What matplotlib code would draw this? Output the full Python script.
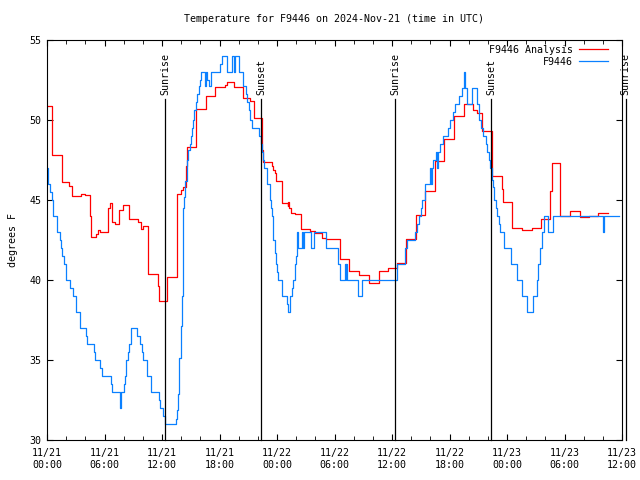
import numpy as np
import matplotlib
matplotlib.use('Agg')
import matplotlib.pyplot as plt

# hours since 11/21 00:00 UTC, temperatures in F (step data)
red_hours = [0.0, 0.55, 1.53, 1.6, 2.33, 2.57, 3.51, 3.96, 4.5, 4.63, 5.15, 5.3, 5.57,
             6.4, 6.6, 6.8, 7.1, 7.5, 7.9, 8.6, 9.5, 9.85, 10.0, 10.5, 11.55, 11.65,
             12.5, 13.53, 13.56, 14.0, 14.2, 14.55, 14.6, 15.55, 16.56, 17.53, 18.6,
             18.75, 19.5, 20.4, 21.2, 21.6, 22.4, 22.5, 23.5, 23.6, 23.75, 23.9, 24.5,
             25.1, 25.15, 25.2, 25.45, 25.9, 26.5, 27.4, 28.0, 28.7, 29.1, 30.6, 31.5,
             32.55, 33.6, 34.6, 35.55, 36.5, 37.46, 38.5, 39.48, 40.5, 41.46, 42.5,
             43.5, 44.5, 44.9, 45.4, 46.45, 47.5, 47.6, 48.55, 49.6, 50.6, 51.55,
             52.5, 52.65, 53.56, 54.6, 55.6, 56.6, 57.5, 58.5]
red_temps = [50.9, 47.8, 46.9, 46.1, 45.9, 45.25, 45.4, 45.33, 44.0, 42.7, 42.9, 43.1, 43.0,
             44.5, 44.8, 43.6, 43.5, 44.4, 44.7, 43.8, 43.6, 43.2, 43.4, 40.4, 39.6, 38.7,
             40.2, 42.8, 45.4, 45.6, 45.8, 47.1, 48.3, 50.7, 51.5, 52.06, 52.2,
             52.4, 52.04, 51.35, 51.2, 50.1, 48.1, 47.35, 47.1, 46.9, 46.67, 46.17, 44.8,
             44.6, 44.9, 44.5, 44.17, 44.1, 43.2, 43.04, 42.96, 42.65, 42.56, 41.3, 40.54,
             40.31, 39.81, 40.56, 40.75, 41.04, 42.54, 44.04, 45.56, 47.46, 48.79, 50.23,
             50.98, 50.63, 50.46, 49.3, 46.5, 45.7, 44.9, 43.23, 43.125, 43.23, 43.79,
             45.56, 47.29, 43.98, 44.29, 43.92, 44.02, 44.17, 44.17]

blue_hours = [0.0, 0.14, 0.35, 0.49, 0.59, 0.66, 1.01, 1.32, 1.46, 1.6, 1.77, 1.98, 2.4,
              2.71, 3.03, 3.44, 4.03, 4.14, 4.9, 5.01, 5.53, 5.7, 6.64, 6.75, 7.62, 7.72,
              8.03, 8.14, 8.24, 8.42, 8.52, 8.77, 9.39, 9.67, 9.88, 10.05, 10.47, 10.85,
              11.69, 11.83, 12.14, 12.28, 13.43, 13.6, 13.7, 13.81, 13.95, 14.05, 14.16,
              14.23, 14.33, 14.44, 14.57, 14.71, 14.89, 15.03, 15.17, 15.27, 15.37, 15.55,
              15.69, 15.86, 15.97, 16.03, 16.49, 16.56, 16.7, 16.9, 17.08, 18.05, 18.23,
              18.75, 19.27, 19.5, 19.6, 20.04, 20.49, 20.77, 20.91, 21.04, 21.18, 21.39,
              22.12, 22.3, 22.4, 22.54, 22.68, 23.0, 23.27, 23.34, 23.45, 23.55, 23.62,
              23.79, 23.9, 24.03, 24.14, 24.49, 25.08, 25.19, 25.39, 25.53, 25.71, 25.88,
              25.98, 26.09, 26.23, 26.6, 26.7, 26.85, 27.55, 27.9, 29.08, 30.4, 30.57,
              31.1, 31.15, 31.2, 31.27, 32.49, 32.84, 36.49, 37.36, 37.6, 38.4, 38.57,
              38.85, 38.99, 39.17, 39.45, 39.97, 40.1, 40.15, 40.31, 40.56, 40.7, 40.75,
              41.01, 41.36, 41.81, 42.05, 42.33, 42.61, 42.99, 43.27, 43.51, 43.55, 43.6,
              43.79, 44.31, 44.91, 45.11, 45.32, 45.53, 45.81, 45.88, 46.12, 46.23, 46.4,
              46.47, 46.57, 46.68, 46.82, 46.96, 47.17, 47.3, 47.72, 48.42, 49.01, 49.6,
              50.05, 50.75, 51.1, 51.27, 51.44, 51.62, 51.9, 52.31, 52.83, 58.05, 58.16,
              59.7]
blue_temps = [47.0, 46.0, 45.5, 45.0, 44.5, 44.0, 43.0, 42.5, 42.0, 41.5, 41.0, 40.0, 39.5,
              39.0, 38.0, 37.0, 36.5, 36.0, 35.5, 35.0, 34.5, 34.0, 33.5, 33.0, 32.0, 33.0,
              33.5, 34.0, 35.0, 35.5, 36.0, 37.0, 36.5, 36.0, 35.5, 35.0, 34.0, 33.0,
              32.5, 32.0, 31.5, 31.0, 31.3, 31.9, 32.9, 35.1, 37.1, 39.0, 41.0,
              44.5, 45.2, 46.2, 47.5, 48.1, 48.5, 49.0, 49.5, 50.0, 50.6, 51.1,
              51.6, 52.1, 52.5, 53.0, 52.1, 53.0, 52.5, 52.1, 53.0, 53.5, 54.0,
              53.0, 54.0, 53.0, 54.0, 53.0, 52.1, 51.6, 51.1, 50.6, 50.0, 49.5,
              49.0, 48.5, 48.0, 47.5, 47.0, 46.0, 45.0, 44.5, 44.0, 43.0, 42.5,
              41.7, 41.0, 40.5, 40.0, 39.0, 38.5, 38.0, 39.0, 39.5, 40.0, 41.0,
              41.5, 43.0, 42.0, 43.0, 42.0, 43.0, 42.0, 43.0, 42.0, 41.0, 40.0,
              41.0, 40.0, 41.0, 40.0, 39.0, 40.0, 41.0, 42.0, 42.5, 43.0, 43.5,
              44.0, 44.5, 45.0, 46.0, 47.0, 46.0, 47.0, 47.5, 48.0, 47.0, 48.0,
              48.5, 49.0, 49.5, 50.0, 50.5, 51.0, 51.5, 52.0, 52.5, 53.0, 52.0,
              51.0, 52.0, 51.0, 50.0, 49.5, 49.0, 48.5, 48.0, 47.5, 47.0, 46.5,
              46.25, 45.8, 45.0, 44.5, 44.0, 43.5, 43.0, 42.0, 41.0, 40.0, 39.0,
              38.0, 39.0, 40.0, 41.0, 42.0, 43.0, 44.0, 43.0, 44.0, 43.0, 44.0,
              44.0]

sun_hours = [12.34, 22.33, 36.35, 46.38, 60.39]
sun_labels = ['Sunrise', 'Sunset', 'Sunrise', 'Sunset', 'Sunrise']

tick_hours = [0, 6, 12, 18, 24, 30, 36, 42, 48, 54, 60]
tick_labels = ['11/21\n00:00', '11/21\n06:00', '11/21\n12:00', '11/21\n18:00',
               '11/22\n00:00', '11/22\n06:00', '11/22\n12:00', '11/22\n18:00',
               '11/23\n00:00', '11/23\n06:00', '11/23\n12:00']

plt.rcParams['font.family'] = 'DejaVu Sans Mono'
plt.rcParams['font.size'] = 7.2

fig = plt.figure(figsize=(6.4, 4.8), dpi=100)
ax = fig.add_axes([47/640, 40/480, 575/640, 400/480])

ax.step(red_hours, red_temps, where='post', color='#ff0000', lw=0.9, label='F9446 Analysis')
ax.step(blue_hours, blue_temps, where='post', color='#0a80ff', lw=0.9, label='F9446')

for h, lab in zip(sun_hours, sun_labels):
    ax.plot([h, h], [30, 51.3], color='black', lw=0.9, clip_on=False)
    ax.text(h, 51.55, lab, rotation=90, ha='center', va='bottom', clip_on=False)

ax.set_xlim(0, 60)
ax.set_ylim(30, 55)
ax.set_xticks(tick_hours)
ax.set_xticklabels(tick_labels)
ax.set_xticks(np.arange(0, 61, 2), minor=True)
ax.set_yticks([30, 35, 40, 45, 50, 55])
ax.tick_params(which='both', direction='in', top=True, right=True)
ax.tick_params(which='major', length=4, pad=6)
ax.tick_params(which='minor', length=3)
ax.tick_params(axis='y', pad=4)

ax.set_ylabel('degrees F', labelpad=8)
ax.set_title('Temperature for F9446 on 2024-Nov-21 (time in UTC)', fontsize=7.2, pad=13)

ax.legend(loc='upper right', frameon=False, markerfirst=False, handlelength=2.9,
          handletextpad=0.6, borderaxespad=0.1, labelspacing=0.2,
          bbox_to_anchor=(0.985, 1.0))

fig.savefig('out.png', dpi=100)
